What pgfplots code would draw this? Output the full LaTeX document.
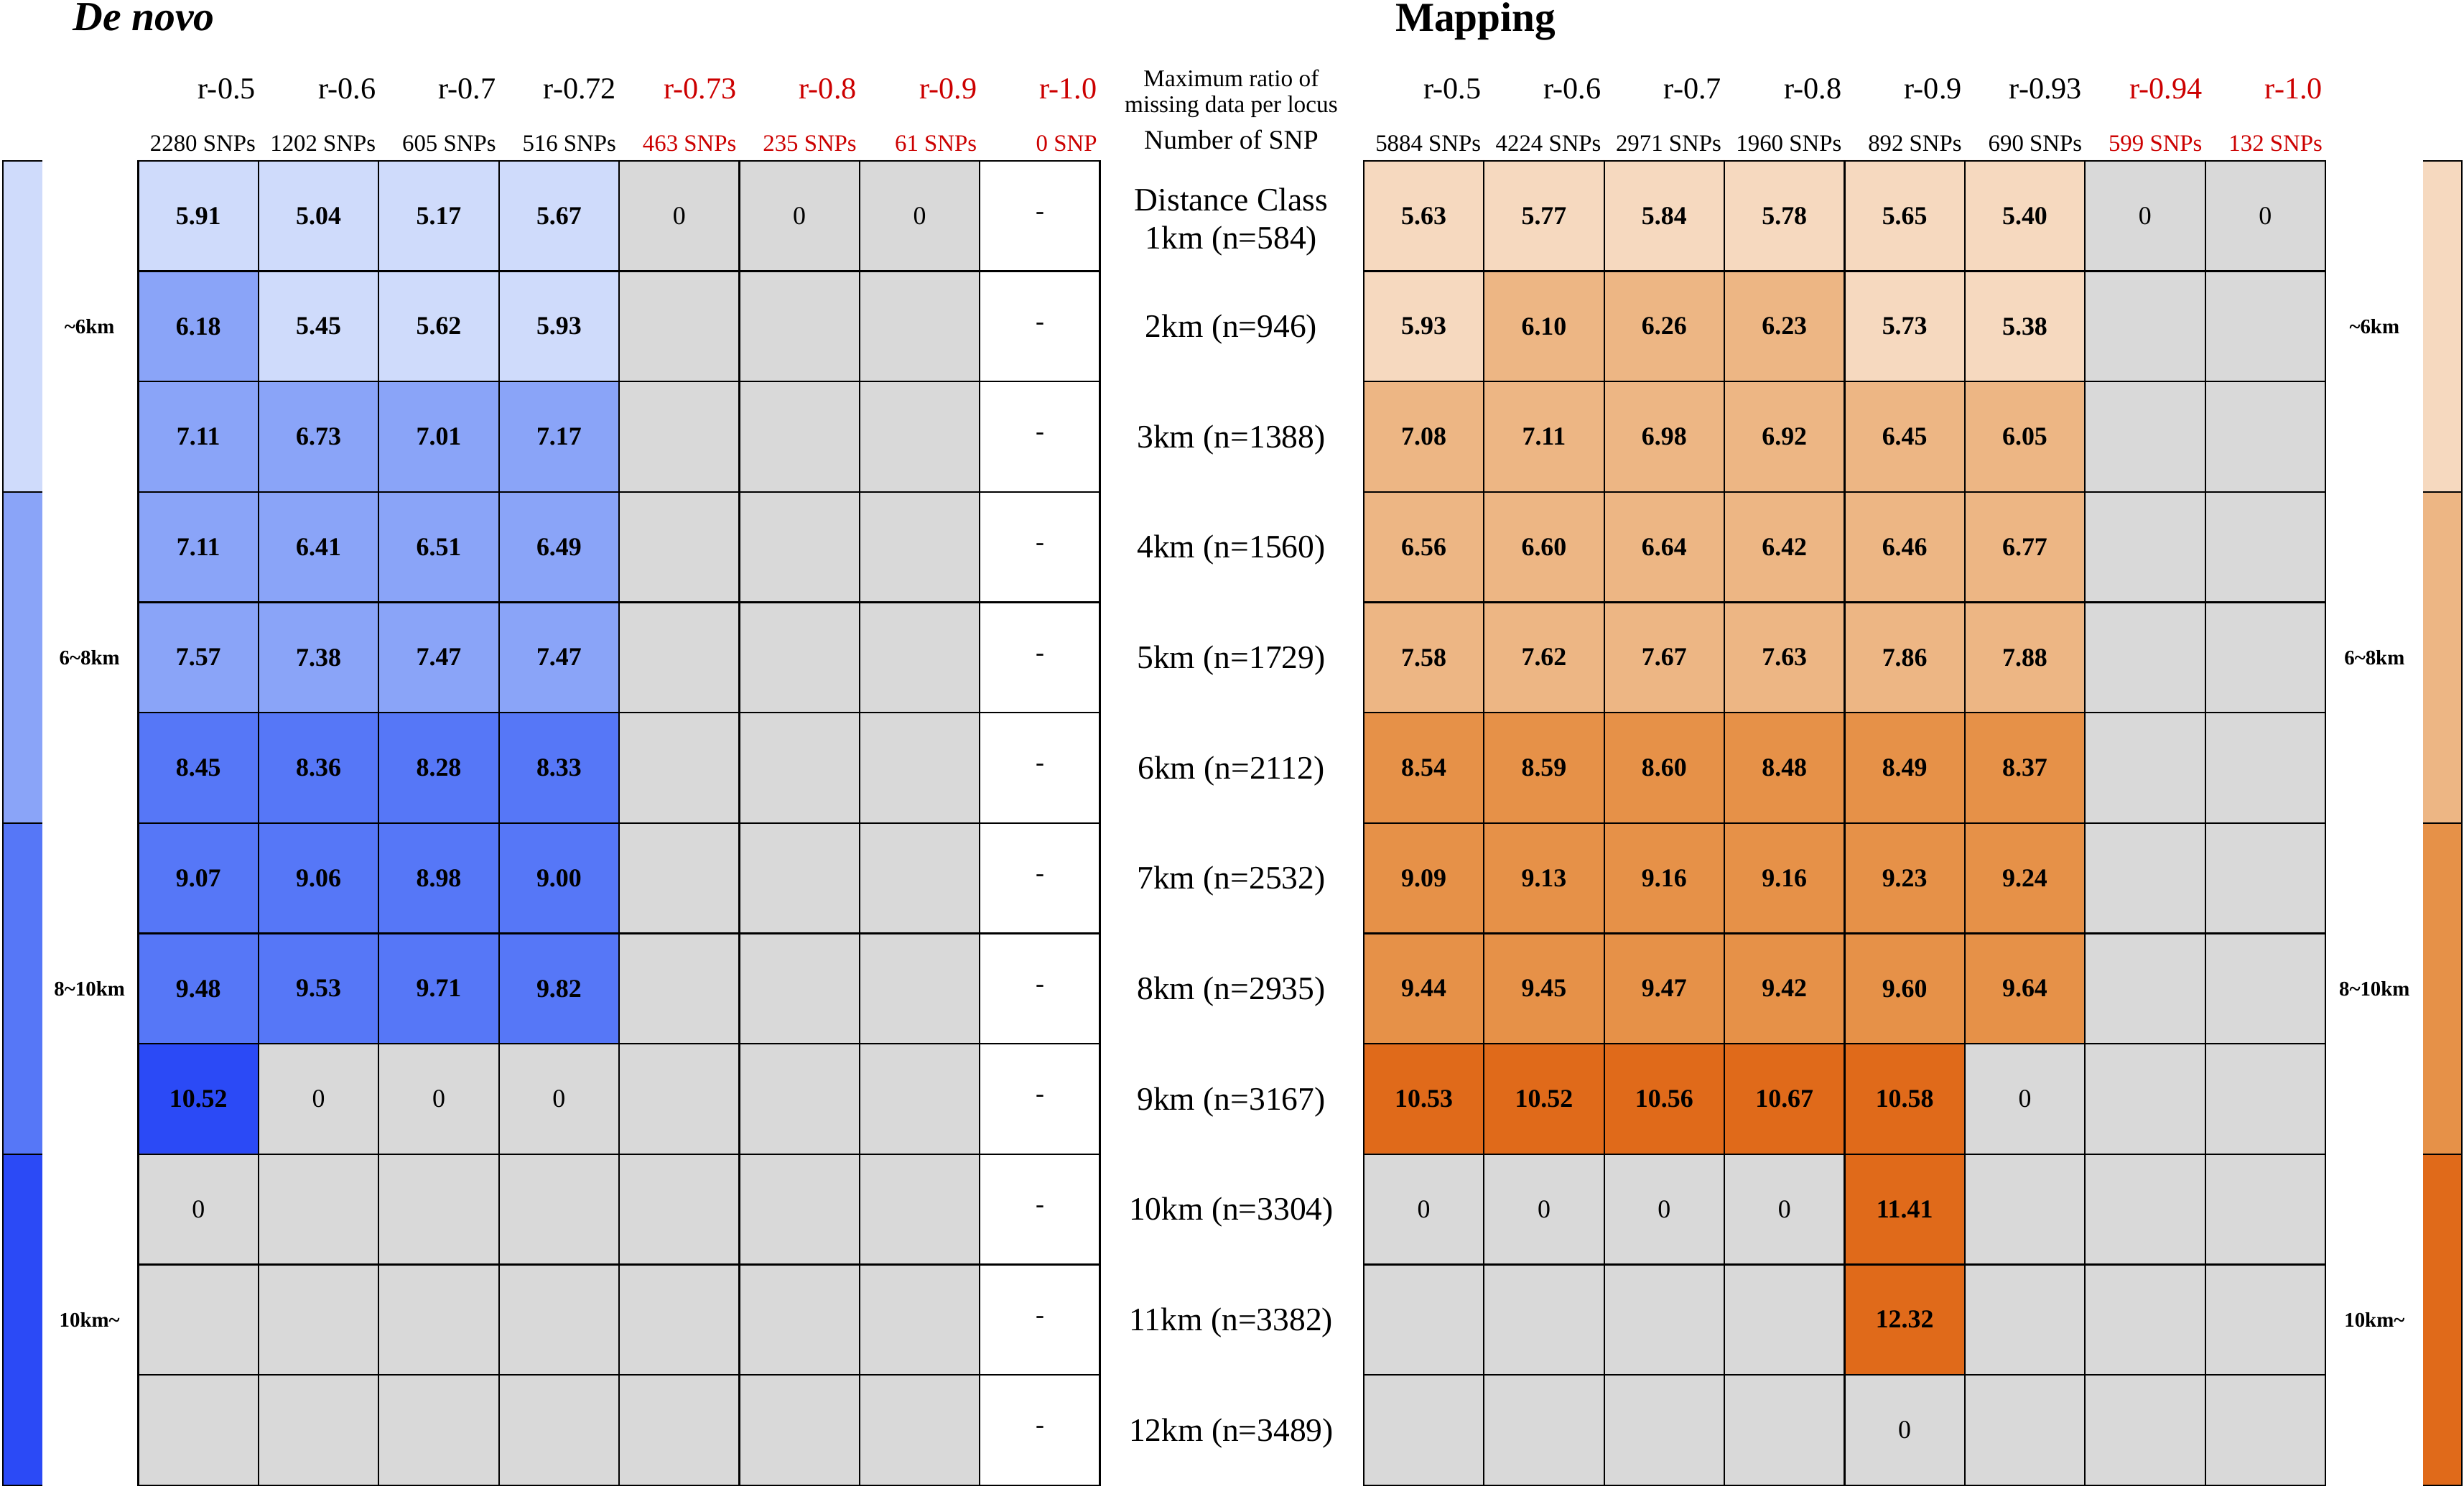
\documentclass[border=0pt]{standalone}
\usepackage{fontspec}
\setmainfont{Liberation Serif}
\usepackage{pgfplots}
\usepackage{pgfplotstable}
\pgfplotsset{compat=1.18}

\definecolor{gcell}{HTML}{D9D9D9}
\definecolor{b1}{HTML}{CFDBFB}
\definecolor{b2}{HTML}{8AA4F8}
\definecolor{b3}{HTML}{5677F7}
\definecolor{b4}{HTML}{2B4AF6}
\definecolor{o1}{HTML}{F6D9BF}
\definecolor{o2}{HTML}{EDB684}
\definecolor{o3}{HTML}{E69148}
\definecolor{o4}{HTML}{E06A1A}
\definecolor{redtxt}{HTML}{CC0000}

% v = value; 0 = grey cell showing "0"; -1 = empty grey cell
\pgfplotstableread[row sep=\\]{
x y v\\
0 0 5.91\\ 1 0 5.04\\ 2 0 5.17\\ 3 0 5.67\\ 4 0 0\\ 5 0 0\\ 6 0 0\\
0 1 6.18\\ 1 1 5.45\\ 2 1 5.62\\ 3 1 5.93\\ 4 1 -1\\ 5 1 -1\\ 6 1 -1\\
0 2 7.11\\ 1 2 6.73\\ 2 2 7.01\\ 3 2 7.17\\ 4 2 -1\\ 5 2 -1\\ 6 2 -1\\
0 3 7.11\\ 1 3 6.41\\ 2 3 6.51\\ 3 3 6.49\\ 4 3 -1\\ 5 3 -1\\ 6 3 -1\\
0 4 7.57\\ 1 4 7.38\\ 2 4 7.47\\ 3 4 7.47\\ 4 4 -1\\ 5 4 -1\\ 6 4 -1\\
0 5 8.45\\ 1 5 8.36\\ 2 5 8.28\\ 3 5 8.33\\ 4 5 -1\\ 5 5 -1\\ 6 5 -1\\
0 6 9.07\\ 1 6 9.06\\ 2 6 8.98\\ 3 6 9.00\\ 4 6 -1\\ 5 6 -1\\ 6 6 -1\\
0 7 9.48\\ 1 7 9.53\\ 2 7 9.71\\ 3 7 9.82\\ 4 7 -1\\ 5 7 -1\\ 6 7 -1\\
0 8 10.52\\ 1 8 0\\ 2 8 0\\ 3 8 0\\ 4 8 -1\\ 5 8 -1\\ 6 8 -1\\
0 9 0\\ 1 9 -1\\ 2 9 -1\\ 3 9 -1\\ 4 9 -1\\ 5 9 -1\\ 6 9 -1\\
0 10 -1\\ 1 10 -1\\ 2 10 -1\\ 3 10 -1\\ 4 10 -1\\ 5 10 -1\\ 6 10 -1\\
0 11 -1\\ 1 11 -1\\ 2 11 -1\\ 3 11 -1\\ 4 11 -1\\ 5 11 -1\\ 6 11 -1\\
}\denovo

\pgfplotstableread[row sep=\\]{
x y v\\
0 0 5.63\\ 1 0 5.77\\ 2 0 5.84\\ 3 0 5.78\\ 4 0 5.65\\ 5 0 5.40\\ 6 0 0\\ 7 0 0\\
0 1 5.93\\ 1 1 6.10\\ 2 1 6.26\\ 3 1 6.23\\ 4 1 5.73\\ 5 1 5.38\\ 6 1 -1\\ 7 1 -1\\
0 2 7.08\\ 1 2 7.11\\ 2 2 6.98\\ 3 2 6.92\\ 4 2 6.45\\ 5 2 6.05\\ 6 2 -1\\ 7 2 -1\\
0 3 6.56\\ 1 3 6.60\\ 2 3 6.64\\ 3 3 6.42\\ 4 3 6.46\\ 5 3 6.77\\ 6 3 -1\\ 7 3 -1\\
0 4 7.58\\ 1 4 7.62\\ 2 4 7.67\\ 3 4 7.63\\ 4 4 7.86\\ 5 4 7.88\\ 6 4 -1\\ 7 4 -1\\
0 5 8.54\\ 1 5 8.59\\ 2 5 8.60\\ 3 5 8.48\\ 4 5 8.49\\ 5 5 8.37\\ 6 5 -1\\ 7 5 -1\\
0 6 9.09\\ 1 6 9.13\\ 2 6 9.16\\ 3 6 9.16\\ 4 6 9.23\\ 5 6 9.24\\ 6 6 -1\\ 7 6 -1\\
0 7 9.44\\ 1 7 9.45\\ 2 7 9.47\\ 3 7 9.42\\ 4 7 9.60\\ 5 7 9.64\\ 6 7 -1\\ 7 7 -1\\
0 8 10.53\\ 1 8 10.52\\ 2 8 10.56\\ 3 8 10.67\\ 4 8 10.58\\ 5 8 0\\ 6 8 -1\\ 7 8 -1\\
0 9 0\\ 1 9 0\\ 2 9 0\\ 3 9 0\\ 4 9 11.41\\ 5 9 -1\\ 6 9 -1\\ 7 9 -1\\
0 10 -1\\ 1 10 -1\\ 2 10 -1\\ 3 10 -1\\ 4 10 12.32\\ 5 10 -1\\ 6 10 -1\\ 7 10 -1\\
0 11 -1\\ 1 11 -1\\ 2 11 -1\\ 3 11 -1\\ 4 11 0\\ 5 11 -1\\ 6 11 -1\\ 7 11 -1\\
}\mapping

\pgfplotsset{
  heat/.style={
    scale only axis, width=306pt, height=421.35pt, anchor=south west,
    xmin=-0.5, xmax=7.5, ymin=-0.5, ymax=11.5, y dir=reverse,
    xtick={-0.5,0.5,...,7.5}, ytick={-0.5,0.5,...,11.5},
    xticklabels={}, yticklabels={}, major tick length=0pt,
    grid=major, major grid style={black, line width=0.5pt},
    axis line style={black, line width=0.6pt},
    axis on top, clip=false,
    point meta min=-1, point meta max=13,
    colormap access=piecewise constant,
  },
  valnodes/.style={only marks, mark=none, point meta=explicit,
    restrict expr to domain={\thisrow{v}}{1:20},
    nodes near coords={\pgfmathprintnumber[fixed,fixed zerofill,precision=2,assume math mode=true]{\pgfplotspointmeta}},
    every node near coord/.append style={anchor=center, inner sep=0pt, font=\bfseries\fontsize{8.2}{9}\selectfont}},
  zeronodes/.style={only marks, mark=none, point meta=explicit,
    restrict expr to domain={\thisrow{v}}{-0.5:0.5},
    nodes near coords={0},
    every node near coord/.append style={anchor=center, inner sep=0pt, font=\fontsize{8.2}{9}\selectfont}},
}

\begin{document}
\begin{tikzpicture}[x=0.5pt,y=-0.5pt]
\path[use as bounding box] (0,0) rectangle (1568,947);

% De novo
\begin{axis}[heat, at={(44pt,-472.5pt)},
  colormap={denovo}{color(0)=(gcell) color(6)=(b1) color(7)=(b2) color(9)=(b3) color(11)=(b4) color(14)=(b4)}]
  \addplot[matrix plot*, mesh/cols=7, point meta=explicit] table[meta=v]{\denovo};
  \addplot[valnodes] table[meta=v]{\denovo};
  \addplot[zeronodes] table[meta=v]{\denovo};
  \addplot[only marks, mark=none, nodes near coords={-},
    every node near coord/.append style={anchor=center, font=\fontsize{8.2}{9}\selectfont}]
    coordinates {(7,0) (7,1) (7,2) (7,3) (7,4) (7,5) (7,6) (7,7) (7,8) (7,9) (7,10) (7,11)};
\end{axis}

% Mapping
\begin{axis}[heat, at={(433.9pt,-472.5pt)},
  colormap={mapping}{color(0)=(gcell) color(6)=(o1) color(7)=(o2) color(9)=(o3) color(11)=(o4) color(14)=(o4)}]
  \addplot[matrix plot*, mesh/cols=8, point meta=explicit] table[meta=v]{\mapping};
  \addplot[valnodes] table[meta=v]{\mapping};
  \addplot[zeronodes] table[meta=v]{\mapping};
\end{axis}

% colour keys
\foreach \c [count=\k from 0] in {b1,b2,b3,b4}
  \fill[\c] (2,{102.3+210.675*\k}) rectangle (27,{102.3+210.675*(\k+1)});
\foreach \c [count=\k from 0] in {o1,o2,o3,o4}
  \fill[\c] (1542,{102.3+210.675*\k}) rectangle (1566.5,{102.3+210.675*(\k+1)});
\draw[line width=0.5pt] (27,102.3) -- (2,102.3) -- (2,945) -- (27,945);
\draw[line width=0.5pt] (1542,102.3) -- (1566.5,102.3) -- (1566.5,945) -- (1542,945);
\foreach \k in {1,2,3} {
  \draw[line width=0.5pt] (2,{102.3+210.675*\k}) -- (27,{102.3+210.675*\k});
  \draw[line width=0.5pt] (1542,{102.3+210.675*\k}) -- (1566.5,{102.3+210.675*\k});
}
\foreach \lab/\r in {\textasciitilde6km/1,6\textasciitilde8km/4,8\textasciitilde10km/7,10km\textasciitilde/10} {
  \node[font=\bfseries\fontsize{6.6}{8}\selectfont] at (57,{102.3+70.225*(\r+0.5)}) {\lab};
  \node[font=\bfseries\fontsize{6.6}{8}\selectfont] at (1511,{102.3+70.225*(\r+0.5)}) {\lab};
}

% titles
\node[anchor=base west, inner sep=0pt, font=\bfseries\itshape\fontsize{13.2}{15}\selectfont] at (46,19.5) {De novo};
\node[anchor=base, inner sep=0pt, font=\bfseries\fontsize{13.1}{15}\selectfont] at (939,19.8) {Mapping};

% column headers
\tikzset{hr/.style={anchor=base east, inner sep=0pt, font=\fontsize{9.65}{11}\selectfont},
         hs/.style={anchor=base east, inner sep=0pt, font=\fontsize{7.5}{9}\selectfont}}
\foreach \lab/\snp [count=\i from 1] in {r-0.5/2280 SNPs,r-0.6/1202 SNPs,r-0.7/605 SNPs,r-0.72/516 SNPs} {
  \node[hr] at ({88+76.5*\i-1.5},63) {\lab};
  \node[hs] at ({88+76.5*\i-1.5},96) {\snp};
}
\foreach \lab/\snp [count=\i from 5] in {r-0.73/463 SNPs,r-0.8/235 SNPs,r-0.9/61 SNPs,r-1.0/0 SNP} {
  \node[hr, text=redtxt] at ({88+76.5*\i-1.5},63) {\lab};
  \node[hs, text=redtxt] at ({88+76.5*\i-1.5},96) {\snp};
}
\foreach \lab/\snp [count=\i from 1] in {r-0.5/5884 SNPs,r-0.6/4224 SNPs,r-0.7/2971 SNPs,r-0.8/1960 SNPs,r-0.9/892 SNPs,r-0.93/690 SNPs} {
  \node[hr] at ({867.8+76.5*\i-1.5},63) {\lab};
  \node[hs] at ({867.8+76.5*\i-1.5},96) {\snp};
}
\foreach \lab/\snp [count=\i from 7] in {r-0.94/599 SNPs,r-1.0/132 SNPs} {
  \node[hr, text=redtxt] at ({867.8+76.5*\i-1.5},63) {\lab};
  \node[hs, text=redtxt] at ({867.8+76.5*\i-1.5},96) {\snp};
}

% middle column
\node[anchor=base, inner sep=0pt, font=\fontsize{7.6}{9}\selectfont] at (783.5,55) {Maximum ratio of};
\node[anchor=base, inner sep=0pt, font=\fontsize{7.6}{9}\selectfont] at (783.5,71.6) {missing data per locus};
\node[anchor=base, inner sep=0pt, font=\fontsize{8.6}{10}\selectfont] at (783.5,95) {Number of SNP};
\node[anchor=base, inner sep=0pt, font=\fontsize{10.4}{12}\selectfont] at (783.5,134) {Distance Class};
\node[anchor=base, inner sep=0pt, font=\fontsize{10.4}{12}\selectfont] at (783.5,158.5) {1km (n=584)};
\foreach \lab [count=\r from 1] in {2km (n=946),3km (n=1388),4km (n=1560),5km (n=1729),6km (n=2112),7km (n=2532),8km (n=2935),9km (n=3167),10km (n=3304),11km (n=3382),12km (n=3489)}
  \node[anchor=base, inner sep=0pt, font=\fontsize{10.4}{12}\selectfont] at (783.5,{102.3+70.225*(\r+0.5)+7}) {\lab};
\end{tikzpicture}
\end{document}
